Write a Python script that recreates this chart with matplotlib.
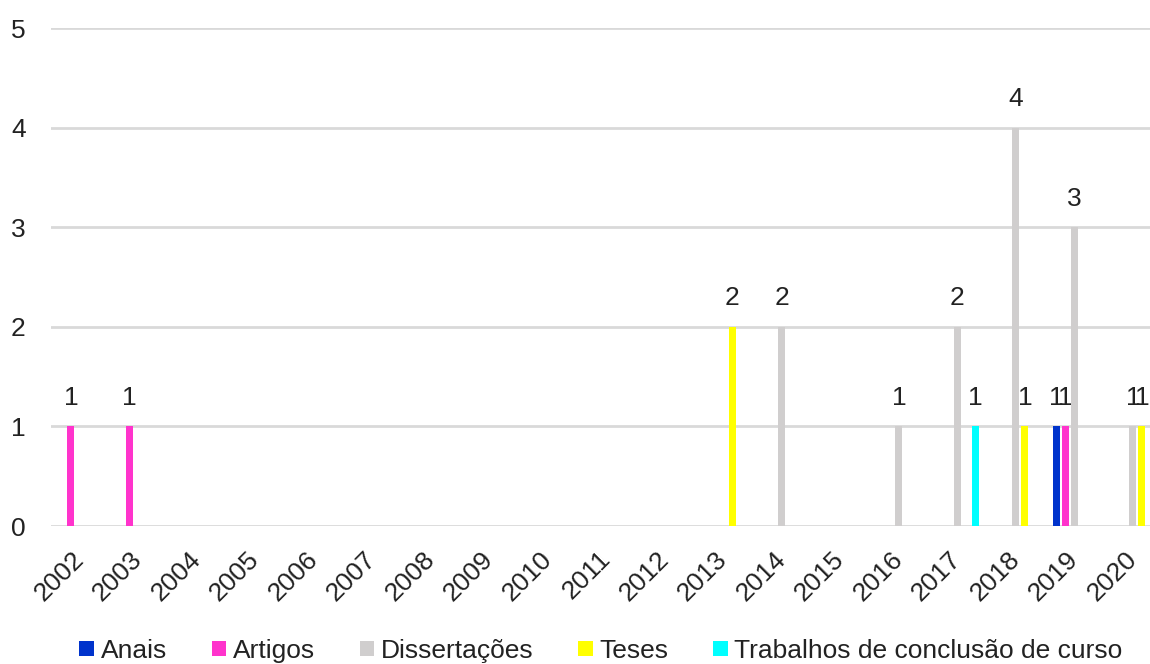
#模块导入
import numpy as np
import matplotlib.pyplot as plt
from matplotlib.patches import Patch

plt.rcParams['font.family'] = ['Liberation Sans', 'DejaVu Sans']

#数据准备
anos = ["2002", "2003", "2004", "2005", "2006", "2007", "2008", "2009", "2010", "2011",
        "2012", "2013", "2014", "2015", "2016", "2017", "2018", "2019", "2020"]
anais = [0, 0, 0, 0, 0, 0, 0, 0, 0, 0, 0, 0, 0, 0, 0, 0, 0, 1, 0]
artigos = [1, 1, 0, 0, 0, 0, 0, 0, 0, 0, 0, 0, 0, 0, 0, 0, 0, 1, 0]
dissertacoes = [0, 0, 0, 0, 0, 0, 0, 0, 0, 0, 0, 0, 2, 0, 1, 2, 4, 3, 1]
teses = [0, 0, 0, 0, 0, 0, 0, 0, 0, 0, 0, 2, 0, 0, 0, 0, 1, 0, 1]
tcc = [0, 0, 0, 0, 0, 0, 0, 0, 0, 0, 0, 0, 0, 0, 0, 1, 0, 0, 0]

series_names = ["Anais", "Artigos", "Dissertações", "Teses", "Trabalhos de conclusão de curso"]
series_values = [anais, artigos, dissertacoes, teses, tcc]
series_colors = ["#0033CC", "#FF33CC", "#D0CECE", "#FFFF00", "#00FFFF"]

fs = 19

#绘图
fig = plt.figure(figsize=(11.5, 6.64), dpi=100)
ax = fig.add_axes([0.0441, 0.2078, 0.9665, 0.75])

x = np.arange(len(anos))
step = 0.154
width = 0.12
for i, (vals, color) in enumerate(zip(series_values, series_colors)):
    pos = x + (i - 2) * step
    ax.bar(pos, vals, width=width, color=color, zorder=3)
    for p, v in zip(pos, vals):
        if v > 0:
            ax.annotate(str(v), (p, v), xytext=(0, 12), textcoords="offset points",
                        ha="center", va="bottom", fontsize=fs, color="#222222")

ax.set_xlim(-0.5, len(anos) - 0.5)
ax.set_ylim(0, 5)
ax.set_yticks(range(6))
ax.yaxis.grid(True, color="#D9D9D9", linewidth=2, zorder=0)
ax.set_axisbelow(True)
for s in ax.spines.values():
    s.set_visible(False)

ax.set_xticks(x)
ax.set_xticklabels(anos, rotation=45, ha="right", va="center", rotation_mode="anchor")
ax.tick_params(axis="x", length=0, pad=21, labelsize=fs, labelcolor="#222222")
ax.tick_params(axis="y", length=0, pad=18, labelsize=fs, labelcolor="#222222")

#图例
handles = [Patch(facecolor=c, edgecolor="none") for c in series_colors]
fig.legend(handles, series_names, loc="center", bbox_to_anchor=(601 / 1150, 1 - 651 / 664),
           ncol=5, frameon=False, fontsize=fs, handlelength=0.55, handleheight=0.5,
           handletextpad=0.25, columnspacing=1.7, labelcolor="#222222")

fig.savefig("out.png", dpi=100)
